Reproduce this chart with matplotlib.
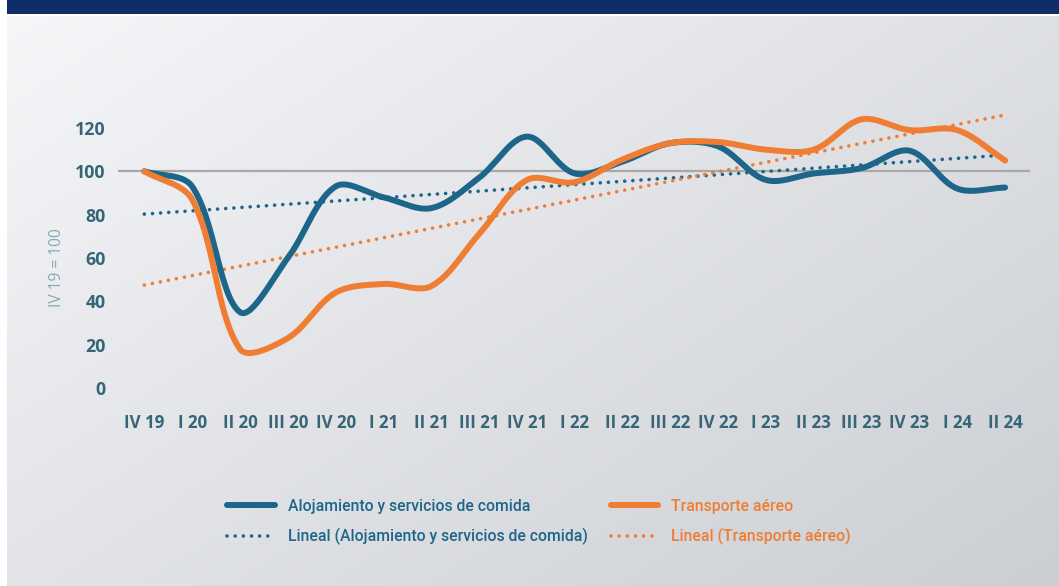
import numpy as np
import matplotlib
matplotlib.use("Agg")
import matplotlib.pyplot as plt

# quarters and index values (IV 19 = 100)
quarters = ["IV 19", "I 20", "II 20", "III 20", "IV 20", "I 21", "II 21", "III 21", "IV 21",
            "I 22", "II 22", "III 22", "IV 22", "I 23", "II 23", "III 23", "IV 23", "I 24", "II 24"]
alojamiento = [100, 93, 35, 60, 93, 88, 83, 97, 116, 99, 104.5, 113, 111.5, 96, 99, 101.5, 109.5, 92, 92.5]
transporte = [100, 87, 18, 23, 44, 48, 47, 71, 96, 95, 105.5, 113, 113.5, 110, 110, 124, 119, 119, 105]
yticks = [0, 20, 40, 60, 80, 100, 120]

blue = "#1d6689"
orange = "#ef7d33"
tick_col = "#376578"

plt.rcParams["font.family"] = ["Open Sans", "DejaVu Sans"]


# smoothed curve like the spreadsheet "smooth line" option (bezier through points)
def smooth(xs, ys, ky=2.167 / 47.78, n=30):
    P = np.column_stack([xs, ys]).astype(float)
    Q = P.copy()
    Q[:, 1] *= ky
    m = len(P)
    out = []
    for i in range(m - 1):
        p0 = Q[max(i - 1, 0)]
        p1 = Q[i]
        p2 = Q[i + 1]
        p3 = Q[min(i + 2, m - 1)]
        d01 = np.linalg.norm(p1 - p0)
        d12 = np.linalg.norm(p2 - p1)
        d23 = np.linalg.norm(p3 - p2)
        c1 = p1 + (p2 - p0) * (d12 / (d01 + d12)) / 3
        c2 = p2 - (p3 - p1) * (d12 / (d12 + d23)) / 3
        t = np.linspace(0, 1, n)[:, None]
        seg = ((1 - t) ** 3) * p1 + 3 * ((1 - t) ** 2) * t * c1 + 3 * (1 - t) * t ** 2 * c2 + t ** 3 * p2
        out.append(seg if i == 0 else seg[1:])
    out = np.vstack(out)
    out[:, 1] /= ky
    return out[:, 0], out[:, 1]


W, H = 1059, 586
fig = plt.figure(figsize=(W / 100, H / 100), dpi=100)
fig.patch.set_facecolor("white")

# background panel with gradient and navy banner
bg = fig.add_axes([7 / W, 0, 1 - 7 / W, (H - 16) / H])
gx, gy = np.meshgrid(np.linspace(0, 1, 300), np.linspace(0, 1, 200))
g = (0.55 * gx + 0.45 * gy)
c0 = np.array([0xf5, 0xf6, 0xf8]) / 255
c1 = np.array([0xcb, 0xce, 0xd3]) / 255
img = c0 + g[..., None] * (c1 - c0)
bg.imshow(img, aspect="auto", extent=[0, 1, 0, 1], origin="upper")
bg.axis("off")
ban = fig.add_axes([7 / W, (H - 14) / H, 1 - 7 / W, 14 / H])
ban.set_facecolor("#0f2d69")
ban.set_xticks([])
ban.set_yticks([])
for s in ban.spines.values():
    s.set_visible(False)

# main plot
ax = fig.add_axes([118 / W, (H - 398.8) / H, 912 / W, (398.8 - 106.3) / H])
ax.patch.set_alpha(0)
x = np.arange(len(quarters))

ax.axhline(100, color="#a8a8a8", lw=1.6, zorder=1)

xa, ya = smooth(x, alojamiento)
xt, yt = smooth(x, transporte)
ax.plot(xa, ya, color=blue, lw=4.3, solid_capstyle="round", zorder=3,
        label="Alojamiento y servicios de comida")

# linear trend lines
pa = np.polyfit(x, alojamiento, 1)
pt = np.polyfit(x, transporte, 1)
ax.plot(x, np.polyval(pa, x), color=blue, lw=2.6, linestyle=(0, (0.01, 2.25)),
        dash_capstyle="round", zorder=2, label="Lineal (Alojamiento y servicios de comida)")
ax.plot(xt, yt, color=orange, lw=4.3, solid_capstyle="round", zorder=4, label="Transporte aéreo")
ax.plot(x, np.polyval(pt, x), color=orange, lw=2.6, linestyle=(0, (0.01, 2.25)),
        dash_capstyle="round", zorder=2, label="Lineal (Transporte aéreo)")

ax.set_xlim(-0.55, 18.52)
ax.set_ylim(-5, 130)
ax.set_xticks(x)
ax.set_xticklabels(quarters)
ax.set_yticks(yticks)
ax.tick_params(length=0, labelcolor=tick_col)
ax.tick_params(axis="x", pad=11, labelsize=12.2)
ax.tick_params(axis="y", pad=9, labelsize=12.8)
for lab in ax.get_xticklabels() + ax.get_yticklabels():
    lab.set_fontweight("bold")
for s in ax.spines.values():
    s.set_visible(False)

fig.text(57 / W, 1 - 268 / H, "IV 19 = 100", rotation=90, ha="center", va="center",
         color="#86a9b6", fontsize=11.2)

h, l = ax.get_legend_handles_labels()
leg = fig.legend(h, l, ncol=2, frameon=False,
                 loc="center", bbox_to_anchor=(539 / W, 1 - 522 / H),
                 prop={"family": ["Roboto", "DejaVu Sans"], "size": 11.3, "weight": "medium"},
                 handlelength=3.0, handletextpad=0.85, columnspacing=1.45,
                 labelspacing=0.9, borderpad=0)
for t, c in zip(leg.get_texts(), [blue, blue, orange, orange]):
    t.set_color(c)

fig.savefig("out.png", dpi=100)
